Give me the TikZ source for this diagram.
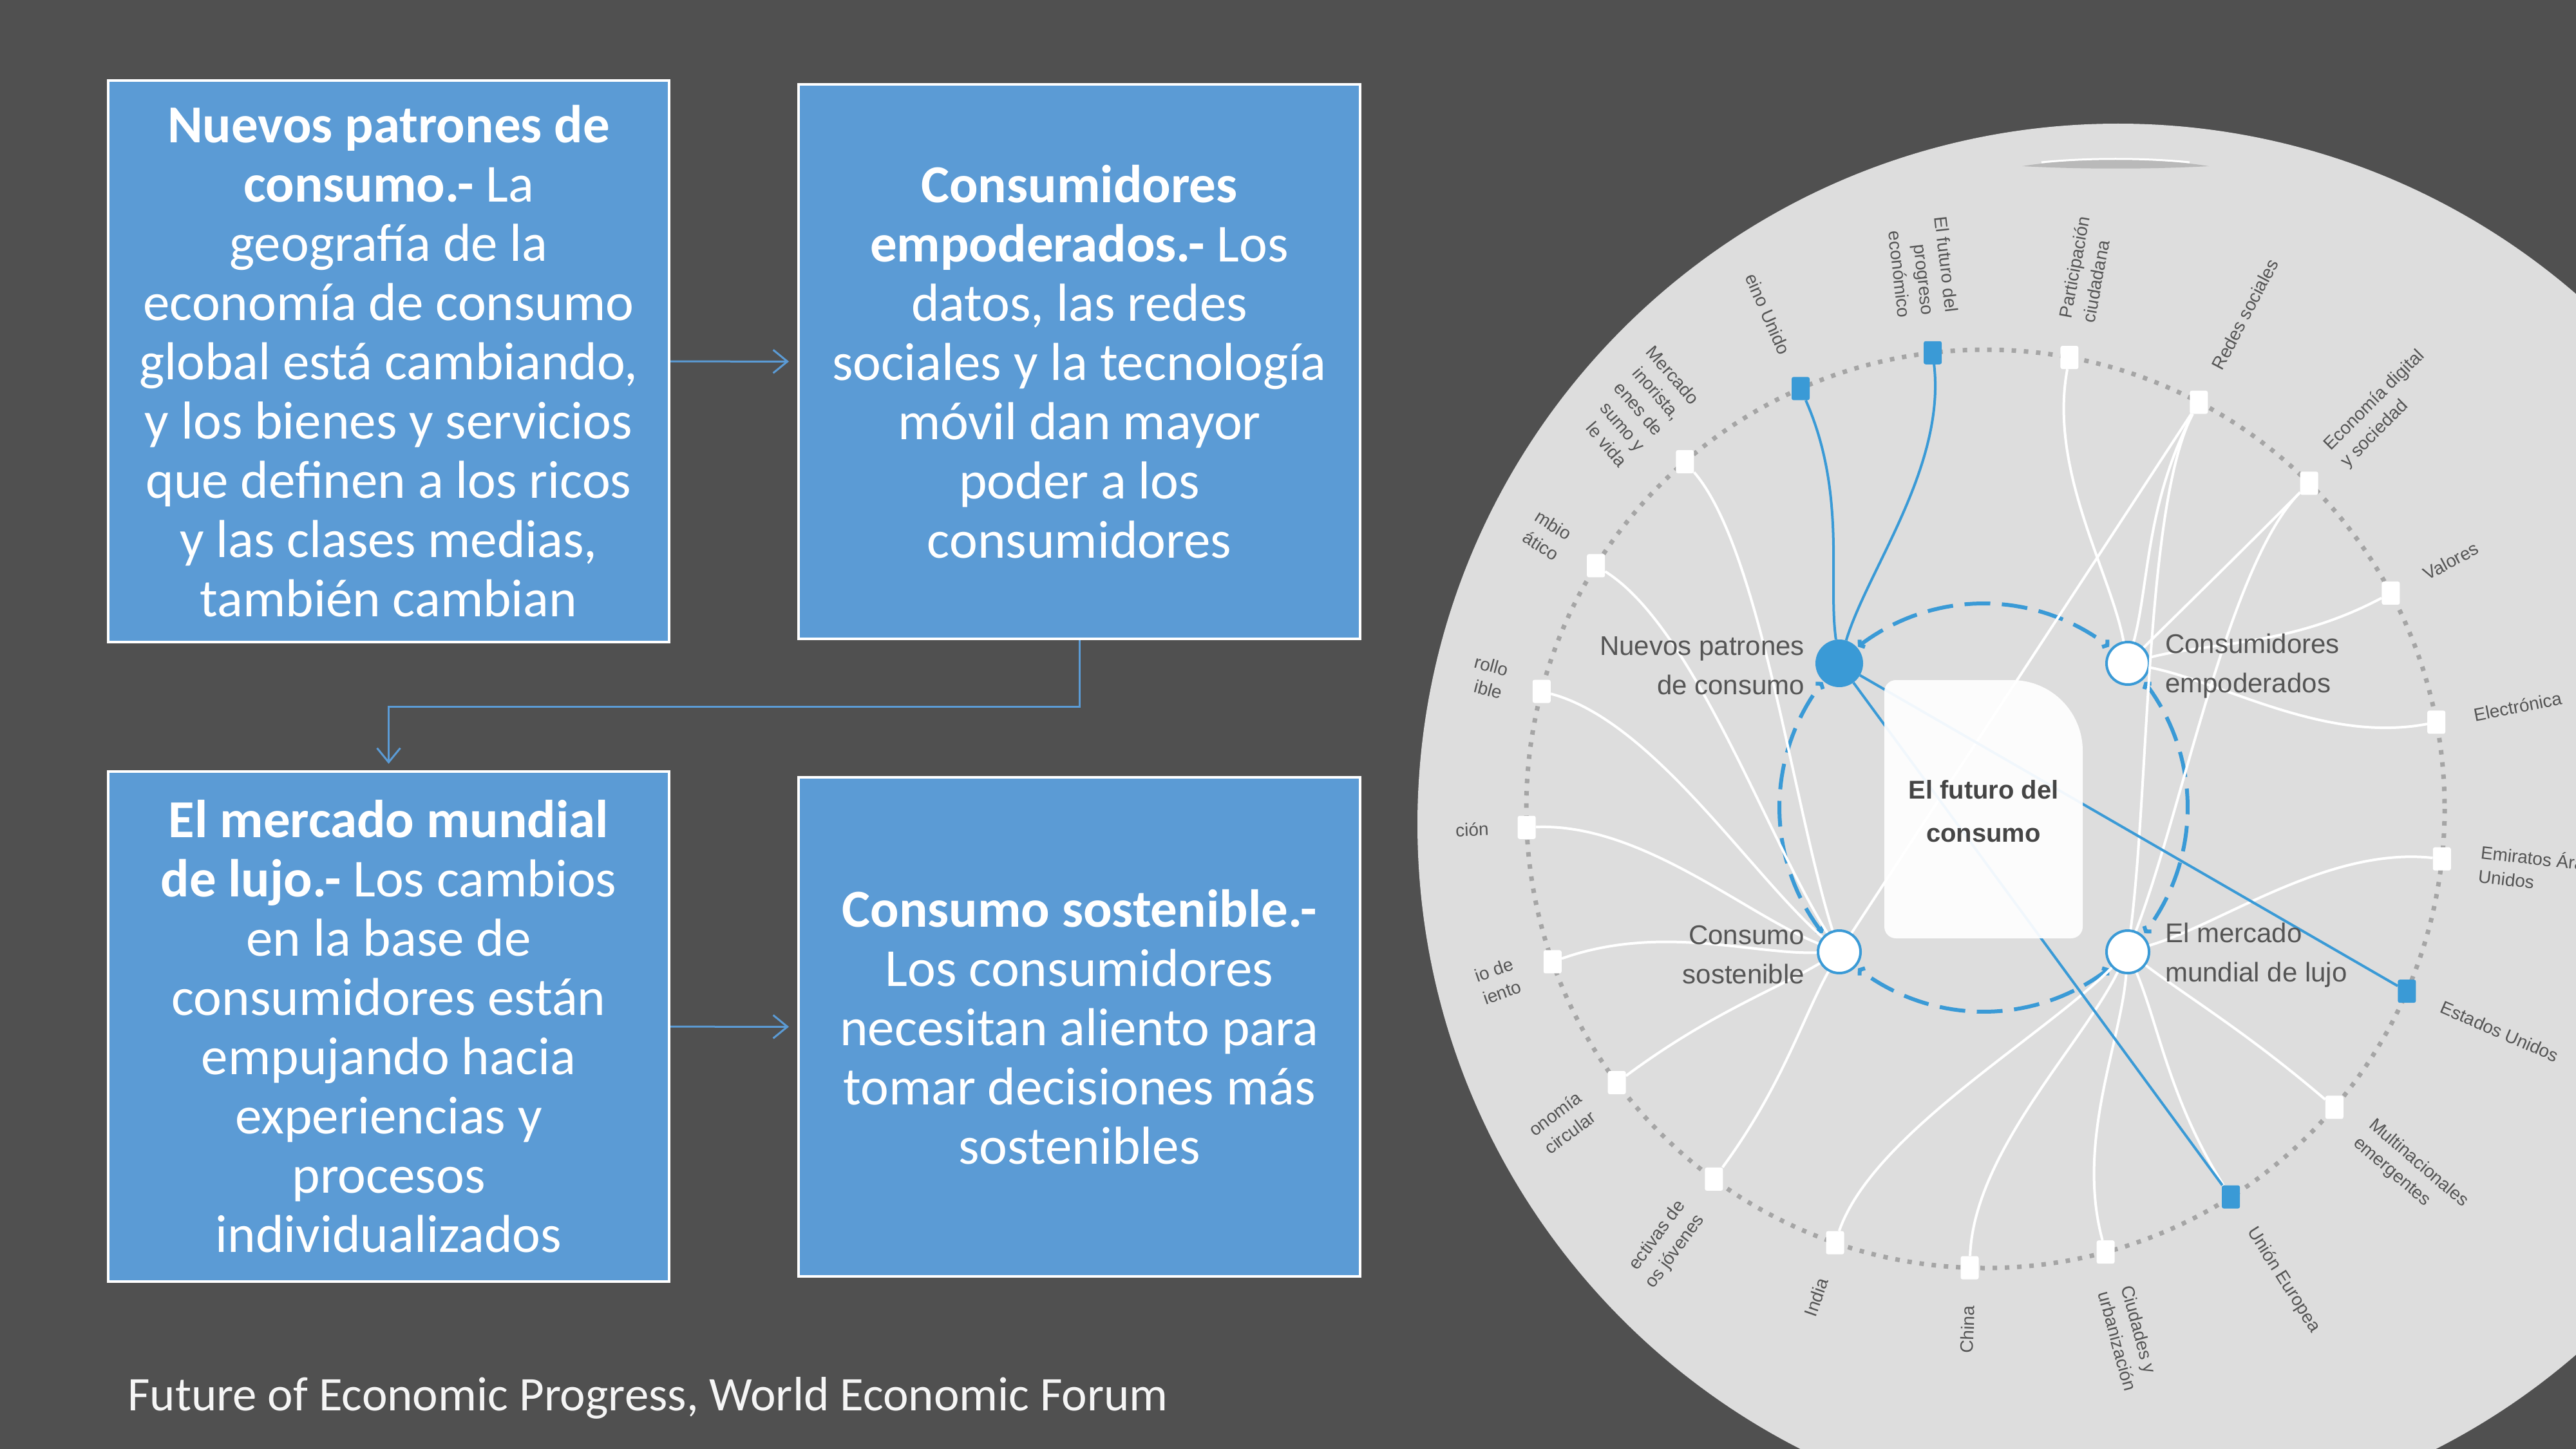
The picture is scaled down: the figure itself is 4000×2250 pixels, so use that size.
\documentclass[tikz,border=0pt]{standalone}
\usepackage{fontspec}
\setmainfont{Carlito}
\newfontfamily\arialf{Liberation Sans}
\usetikzlibrary{calc,arrows.meta}
\definecolor{bgc}{HTML}{505050}
\definecolor{discc}{HTML}{DDDDDD}
\definecolor{dotg}{HTML}{A5A5A5}
\definecolor{wefblue}{HTML}{3A9AD6}
\definecolor{boxblue}{HTML}{5B9BD5}
\definecolor{labg}{HTML}{555555}
\definecolor{ctrg}{HTML}{454545}
\newcommand\wcon[3][wline]{\draw[#1] (#2) .. controls ($(#2)!0.25!(C)$) and ($(#3)!0.3!(#2)$) .. (#3);}
\newcommand\rlab[2]{%
  \pgfmathsetmacro\RLt{96.6-17.143*#1}%
  \pgfmathsetmacro\RLx{3083+772*cos(\RLt)}%
  \pgfmathsetmacro\RLy{1256-772*sin(\RLt)}%
  \pgfmathtruncatemacro\RLs{cos(\RLt)<0}%
  \ifnum\RLs=1
    \node[rlabel, rotate=\RLt+180, anchor=east, align=right] (lab#1) at (\RLx,\RLy) {#2};
  \else
    \node[rlabel, rotate=\RLt, anchor=west, align=left] (lab#1) at (\RLx,\RLy) {#2};
  \fi}
\begin{document}
\begin{tikzpicture}[x=1pt,y=-1pt,
  infobox/.style={draw=white, line width=4pt, fill=boxblue, text=white, align=center, inner sep=0pt, font=\fontsize{83}{92}\selectfont},
  arr/.style={draw=boxblue, line width=3pt, -{Straight Barb[length=22pt,width=36pt]}},
  ringdots/.style={draw=dotg, line width=7pt, dash pattern=on 7pt off 12pt},
  sq/.style={rectangle, minimum width=28pt, minimum height=36pt, inner sep=0pt, fill=white, rounded corners=3pt},
  bsq/.style={sq, fill=wefblue},
  hub/.style={circle, minimum size=66pt, inner sep=0pt, fill=white, draw=wefblue, line width=4pt},
  hubf/.style={circle, minimum size=74pt, inner sep=0pt, fill=wefblue},
  wline/.style={draw=white, line width=4pt},
  bline/.style={draw=wefblue, line width=4pt},
  bdash/.style={draw=wefblue, line width=6pt, dash pattern=on 40pt off 18pt},
  tips/.style={{Straight Barb[length=5pt,width=14pt]}-{Straight Barb[length=5pt,width=14pt]}},
  hlabel/.style={text=labg, font=\arialf\fontsize{42}{61}\selectfont, inner sep=0pt},
  rlabel/.style={text=labg, font=\arialf\fontsize{28}{37}\selectfont, inner sep=0pt}]
\useasboundingbox (0,0) rectangle (4000,2250);
\clip (0,0) rectangle (4000,2250);
\fill[bgc] (0,0) rectangle (4000,2250);

% ---------- left: boxes ----------
\node[infobox, minimum width=871pt, minimum height=872pt] (b1) at (603.5,561) {%
\textbf{Nuevos patrones de}\\\textbf{consumo.-} La\\geografía de la\\economía de consumo\\global está cambiando,\\y los bienes y servicios\\que definen a los ricos\\y las clases medias,\\también cambian};
\node[infobox, minimum width=872pt, minimum height=861pt] (b2) at (1676,561.5) {%
\textbf{Consumidores}\\\textbf{empoderados.-} Los\\datos, las redes\\sociales y la tecnología\\móvil dan mayor\\poder a los\\consumidores};
\node[infobox, minimum width=871pt, minimum height=792pt] (b3) at (603.5,1594) {%
\textbf{El mercado mundial}\\\textbf{de lujo.-} Los cambios\\en la base de\\consumidores están\\empujando hacia\\experiencias y\\procesos\\individualizados};
\node[infobox, minimum width=872pt, minimum height=775pt] (b4) at (1676,1594.5) {%
\textbf{Consumo sostenible.-}\\Los consumidores\\necesitan aliento para\\tomar decisiones más\\sostenibles};
\draw[arr, shorten >=13pt] (b1) -- (b2);
\draw[arr, shorten >=10pt] (b2.south) -- ++(0,103) -| (b3.north);
\draw[arr, shorten >=13pt] (b3) -- (b4);
\node[anchor=base west, text=white!96!black, font=\fontsize{75}{80}\selectfont, inner sep=0pt] (cap) at (198,2190) {Future of Economic Progress, World Economic Forum};

% ---------- right: disc ----------
\fill[discc] (3289,1280) circle[radius=1088];
\fill[gray!55] (3140,258) .. controls (3230,244) and (3340,244) .. (3430,258) .. controls (3340,263) and (3230,263) .. cycle;
\draw[white, line width=3pt] (3170,252) .. controls (3240,245) and (3330,245) .. (3400,252);

\coordinate (C) at (3083,1256);
\draw[ringdots] (C) circle[radius=713];

% dashed inner circle (four arcs)
\draw[bdash, tips] plot[domain=128:52, samples=40] ({3080+317*cos(\x)},{1254-317*sin(\x)});
\draw[bdash, tips] plot[domain=38:-38, samples=40] ({3080+317*cos(\x)},{1254-317*sin(\x)});
\draw[bdash, tips] plot[domain=-52:-128, samples=40] ({3080+317*cos(\x)},{1254-317*sin(\x)});
\draw[bdash, tips] plot[domain=218:142, samples=40] ({3080+317*cos(\x)},{1254-317*sin(\x)});

% outer squares
\foreach \k/\st in {0/bsq,1/sq,2/sq,3/sq,4/sq,5/sq,6/sq,7/bsq,8/sq,9/bsq,10/sq,11/sq,12/sq,13/sq,14/sq,15/sq,16/sq,17/sq,18/sq,19/sq,20/bsq}{
  \pgfmathsetmacro\RA{96.6-17.143*\k}
  \node[\st] (sq\k) at ({3083+713*cos(\RA)},{1256-713*sin(\RA)}) {};
}

% hubs
\node[hubf] (NP) at (2856,1030) {};
\node[hub] (CE) at (3304,1030) {};
\node[hub] (CS) at (2856,1478) {};
\node[hub] (MM) at (3304,1478) {};

% connections
\foreach \s in {1,2,3,4,5}{\wcon{sq\s}{CE}}
\foreach \s in {2,3,6,8,9,10,11,12}{\wcon{sq\s}{MM}}
\foreach \s in {13,14,15,16,17,18,19}{\wcon{sq\s}{CS}}
\draw[wline] (sq2) -- (CS);
\wcon[bline]{sq0}{NP}
\wcon[bline]{sq20}{NP}
\draw[bline] (NP) -- (sq7);
\draw[bline] (NP) -- (sq9);

% centre box
\fill[white, opacity=0.93] (2944,1056) -- (3124,1056) .. controls (3185,1056) and (3234,1105) .. (3234,1166) -- (3234,1439) .. controls (3234,1449) and (3226,1457) .. (3216,1457) -- (2944,1457) .. controls (2934,1457) and (2926,1449) .. (2926,1439) -- (2926,1074) .. controls (2926,1064) and (2934,1056) .. (2944,1056) -- cycle;
\node[text=ctrg, font=\arialf\bfseries\fontsize{40}{67}\selectfont, align=center, inner sep=0pt] (ctr) at (3080,1260) {El futuro del\\consumo};

% hub labels
\node[hlabel, anchor=east, align=right] (lNP) at (2802,1034) {Nuevos patrones\\de consumo};
\node[hlabel, anchor=west, align=left] (lCE) at (3362,1034) {Consumidores\\empoderados};
\node[hlabel, anchor=east, align=right] (lCS) at (2802,1483) {Consumo\\sostenible};
\node[hlabel, anchor=west, align=left] (lMM) at (3362,1483) {El mercado\\mundial de lujo};

% ring labels
\rlab{0}{El futuro del\\progreso\\económico}
\rlab{1}{Participación\\ciudadana}
\rlab{2}{Redes sociales}
\rlab{3}{Economía digital\\y sociedad}
\rlab{4}{Valores}
\rlab{5}{Electrónica}
\rlab{6}{Emiratos Árabes\\Unidos}
\rlab{7}{Estados Unidos}
\rlab{8}{Multinacionales\\emergentes}
\rlab{9}{Unión Europea}
\rlab{10}{Ciudades y\\urbanización}
\rlab{11}{China}
\rlab{12}{India}
\rlab{13}{ectivas de\\os jóvenes}
\rlab{14}{onomía\\circular}
\rlab{15}{io de\\iento}
\rlab{16}{ción}
\rlab{17}{rollo\\ible}
\rlab{18}{mbio\\ático}
\rlab{19}{Mercado\\inorista,\\enes de\\sumo y\\le vida}
\rlab{20}{eino Unido}
\end{tikzpicture}
\end{document}
